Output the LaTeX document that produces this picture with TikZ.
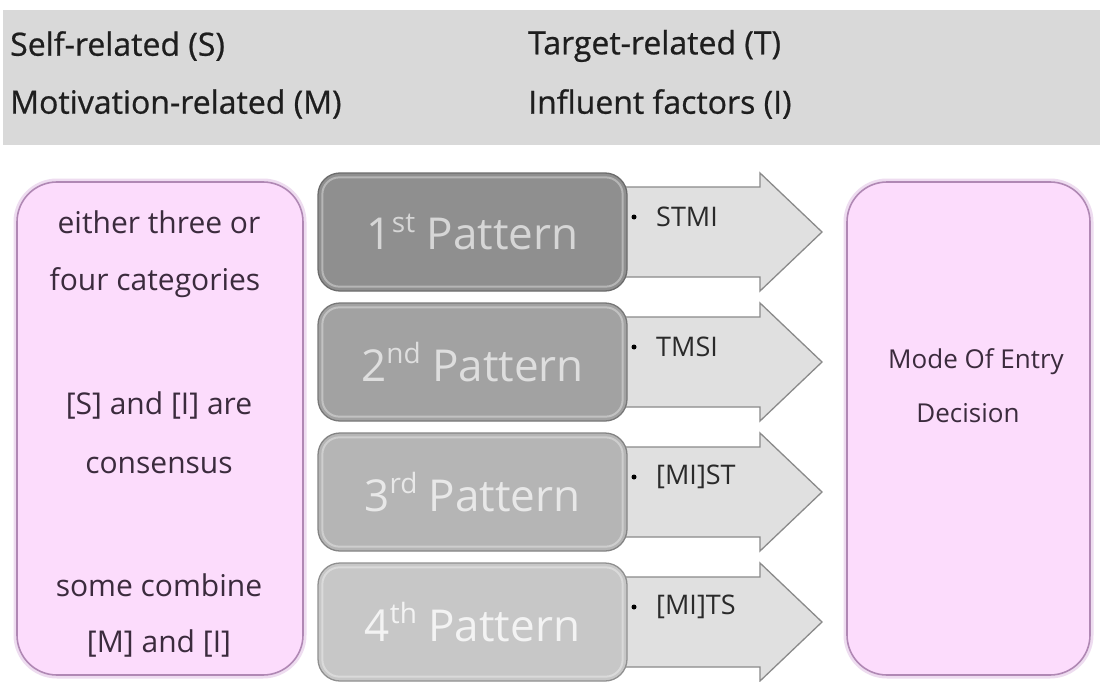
\documentclass[tikz,border=0pt]{standalone}
\usepackage{fontspec}
\setmainfont{Open Sans}
\newfontfamily\headfont[FakeBold=0.7]{Open Sans}
\usetikzlibrary{calc}

\definecolor{band}{HTML}{D9D9D9}
\definecolor{headtext}{HTML}{1E1E1E}
\definecolor{pinkfill}{HTML}{FCDCFC}
\definecolor{pinkedge}{HTML}{B088B4}
\definecolor{pinkglow}{HTML}{EEDCF0}
\definecolor{pinktext}{HTML}{3B2B3D}
\definecolor{arrowfill}{HTML}{E0E0E0}
\definecolor{arrowedge}{HTML}{8A8A8A}
\definecolor{arrowtext}{HTML}{2A2A2A}
\definecolor{patA}{HTML}{8F8F8F}
\definecolor{patB}{HTML}{A2A2A2}
\definecolor{patC}{HTML}{B5B5B5}
\definecolor{patD}{HTML}{C7C7C7}
\definecolor{edgeA}{HTML}{6C6C6C}
\definecolor{edgeB}{HTML}{787878}
\definecolor{edgeC}{HTML}{848484}
\definecolor{edgeD}{HTML}{909090}
\definecolor{txtA}{HTML}{D6D6D6}
\definecolor{txtB}{HTML}{DEDEDE}
\definecolor{txtC}{HTML}{E8E8E8}
\definecolor{txtD}{HTML}{F3F3F3}

\newcommand{\fsz}[1]{\fontsize{#1}{#1}\selectfont}
\newcommand{\ordsup}[1]{\raisebox{0.40em}{\fsz{28}#1}}

\tikzset{
  headlabel/.style={anchor=west, inner sep=0pt, text=headtext, font=\headfont\fsz{32}},
  pinkbox/.style={rounded corners=40pt, fill=pinkfill, draw=pinkedge,
    line width=1.6pt, preaction={draw=pinkglow, line width=7pt}},
  pinklabel/.style={inner sep=0pt, text=pinktext, font=\fsz{30}},
  modelabel/.style={inner sep=0pt, text=pinktext, font=\fsz{26}},
  patbox/.style={rounded corners=22pt, minimum width=309pt,
    minimum height=118pt, line width=1.3pt, inner sep=0pt, font=\fsz{44}},
  bevel/.style={draw=white, draw opacity=0.35, line width=2pt, rounded corners=17pt},
  arrowshape/.style={fill=arrowfill, draw=arrowedge, line width=1.3pt, line join=miter},
  arrowlabel/.style={anchor=west, inner sep=0pt, text=arrowtext, font=\fsz{27}},
  bulletdot/.style={circle, fill=black, inner sep=0pt, minimum size=5pt}
}

\begin{document}
\begin{tikzpicture}[x=1pt,y=-1pt]
\useasboundingbox (0,0) rectangle (1100,682);
\fill[white] (0,0) rectangle (1100,682);

% legend band
\fill[band] (3,10) rectangle (1100,145);
\node[headlabel] (hS) at (10,46) {Self-related (S)};
\node[headlabel] (hM) at (10,104) {Motivation-related (M)};
\node[headlabel] (hT) at (528,46) {Target-related (T)};
\node[headlabel] (hI) at (528,104) {Influent factors (I)};

% side panels
\node[pinkbox, minimum width=286pt, minimum height=493pt] (left) at (160,428.5) {};
\node[pinkbox, minimum width=243pt, minimum height=493pt] (right) at (968.5,428.5) {};

\node[pinklabel] (l1) at (159,222) {either three or};
\node[pinklabel] (l2) at (155,283) {four categories};
\node[pinklabel] (l3) at (159,405) {[S] and [I] are};
\node[pinklabel] (l4) at (159,465) {consensus};
\node[pinklabel] (l5) at (159,585) {some combine};
\node[pinklabel] (l6) at (159,643) {[M] and [I]};

\node[modelabel] (r1) at (976,362) {Mode Of Entry};
\node[modelabel] (r2) at (968,413) {Decision};

% arrows behind the pattern boxes
\foreach \t/\lab [count=\k] in {173/STMI, 303/TMSI, 433/{[MI]ST}, 563/{[MI]TS}}{
  \pgfmathsetmacro{\bt}{\t+118}
  \pgfmathsetmacro{\md}{\t+59}
  \draw[arrowshape] (600,\t+14) -- (760,\t+14) -- (760,\t) -- (822,\md)
    -- (760,\bt) -- (760,\bt-14) -- (600,\bt-14) -- cycle;
  \node[bulletdot] (b\k) at (634,\t+44) {};
  \node[arrowlabel] (a\k) at (656,\t+44) {\lab};
}

% pattern boxes
\node[patbox, fill=patA, draw=edgeA, text=txtA] (p1) at (472.5,232) {1\ordsup{st} Pattern};
\node[patbox, fill=patB, draw=edgeB, text=txtB] (p2) at (472.5,362) {2\ordsup{nd} Pattern};
\node[patbox, fill=patC, draw=edgeC, text=txtC] (p3) at (472.5,492) {3\ordsup{rd} Pattern};
\node[patbox, fill=patD, draw=edgeD, text=txtD] (p4) at (472.5,622) {4\ordsup{th} Pattern};

\foreach \p in {p1,p2,p3,p4}{
  \draw[bevel] ($(\p.south west)+(5,-5)$) rectangle ($(\p.north east)+(-5,5)$);
}
\end{tikzpicture}
\end{document}
